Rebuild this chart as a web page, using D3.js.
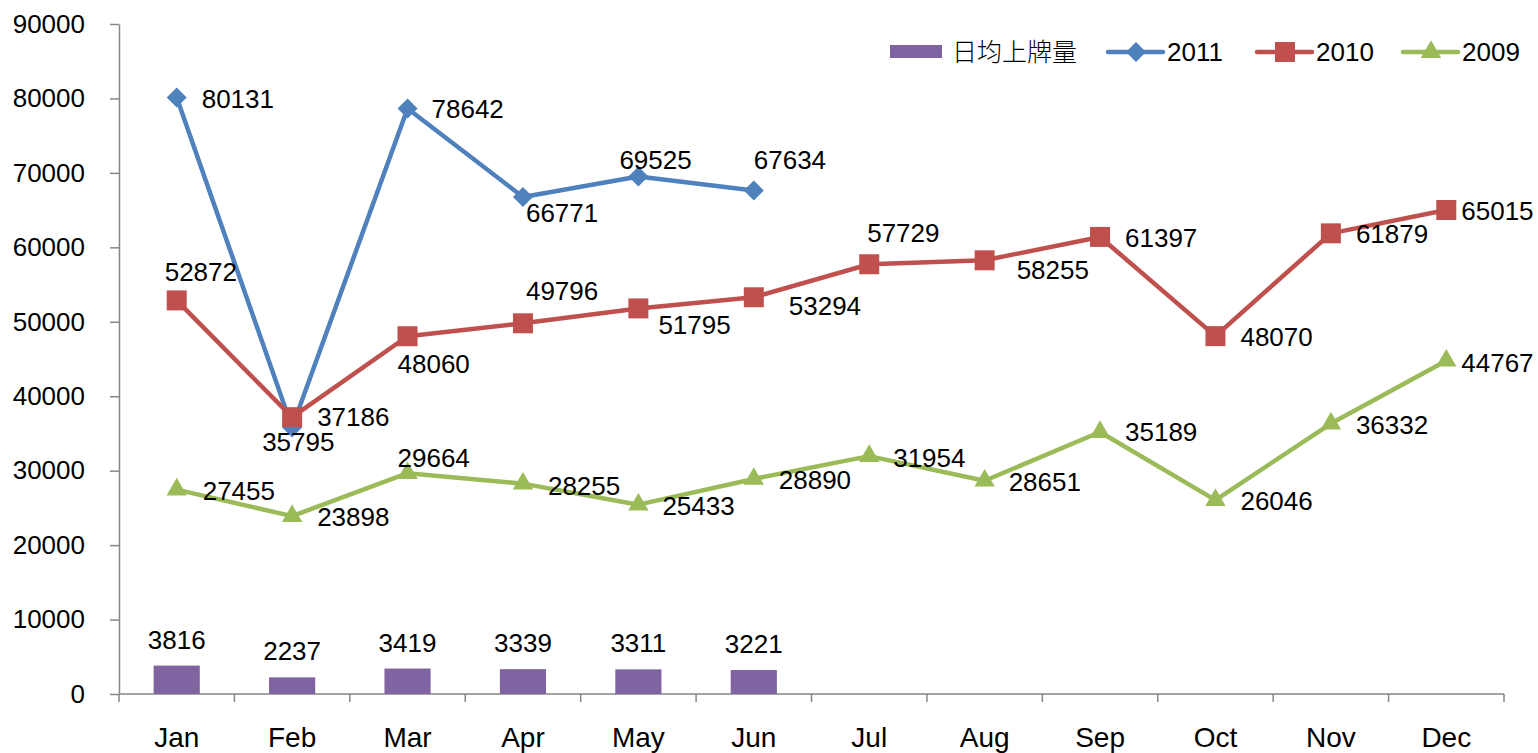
<!DOCTYPE html>
<html>
<head>
<meta charset="utf-8">
<script src="https://cdn.jsdelivr.net/npm/d3@7"></script>
<style>
  body { margin: 0; background: #fff; }
  text { font-family: "Liberation Sans", Arial, sans-serif; fill: #000; }
</style>
</head>
<body>
<svg id="chart"></svg>
<script>
// months on the x axis
var months = ["Jan", "Feb", "Mar", "Apr", "May", "Jun", "Jul", "Aug", "Sep", "Oct", "Nov", "Dec"];

// bars: daily average registrations
var dailyAvg = [3816, 2237, 3419, 3339, 3311, 3221];

// lines
var v2011 = [80131, 35795, 78642, 66771, 69525, 67634];
var v2010 = [52872, 37186, 48060, 49796, 51795, 53294, 57729, 58255, 61397, 48070, 61879, 65015];
var v2009 = [27455, 23898, 29664, 28255, 25433, 28890, 31954, 28651, 35189, 26046, 36332, 44767];

var yTicks = [0, 10000, 20000, 30000, 40000, 50000, 60000, 70000, 80000, 90000];

// label nudges [dx to left edge, dy to centre], relative to the point
var shift2011 = [[25,1],[-30,14],[24,0],[3,16],[-19,-17],[0,-31]];
var shift2010 = [[-12,-28],[25,0],[-10,28],[3,-32],[20,16],[35,9],[-2,-31],[32,10],[25,1],[25,1],[25,1],[15,1]];
var shift2009 = [[26,1],[25,1],[-10,-15],[25,2],[24,1],[25,1],[24,2],[24,1],[25,0],[25,1],[25,1],[15,2]];

var w = 1538, h = 753;
var margin = {top: 24, left: 119, right: 34, bottom: 59};

var svg = d3.select("#chart").attr("width", w).attr("height", h);

var x = d3.scaleBand()
    .domain(months)
    .range([margin.left, w - margin.right])
    .padding(0);
var y = d3.scaleLinear()
    .domain([0, 90000])
    .range([h - margin.bottom, margin.top]);

var bw = x.bandwidth();
function cx(i) { return x(months[i]) + bw / 2; }

var axisColor = "#868686";

// y axis
var yAxis = svg.append("g")
    .attr("transform", "translate(" + margin.left + ",0)")
    .call(d3.axisLeft(y).tickValues(yTicks).tickSize(9).tickSizeOuter(0).tickPadding(25).tickFormat(d3.format("d")));
yAxis.select(".domain").attr("stroke", axisColor).attr("stroke-width", 1.5);
yAxis.selectAll(".tick line").attr("stroke", axisColor).attr("stroke-width", 1.5);
yAxis.selectAll("text").attr("font-size", 26).attr("font-family", "Liberation Sans, Arial, sans-serif").attr("fill", "#000");

// x axis: labels via axis, ticks at category boundaries
var xAxis = svg.append("g")
    .attr("transform", "translate(0," + y(0) + ")")
    .call(d3.axisBottom(x).tickSize(0).tickPadding(33));
xAxis.select(".domain").remove();
xAxis.selectAll("text").attr("font-size", 28).attr("font-family", "Liberation Sans, Arial, sans-serif").attr("fill", "#000");

var bounds = months.map(function(m){ return x(m); }).concat([x.range()[1]]);
svg.append("line")
    .attr("x1", x.range()[0]).attr("x2", x.range()[1])
    .attr("y1", y(0)).attr("y2", y(0))
    .attr("stroke", axisColor).attr("stroke-width", 1.5);
svg.selectAll(".xtick")
    .data(bounds)
    .enter().append("line")
    .attr("x1", function(d){ return d; }).attr("x2", function(d){ return d; })
    .attr("y1", y(0)).attr("y2", y(0) + 8)
    .attr("stroke", axisColor).attr("stroke-width", 1.5);

// bars
var barW = bw / 2.5;
svg.selectAll(".bar")
    .data(dailyAvg)
    .enter().append("rect")
    .attr("x", function(d, i){ return cx(i) - barW / 2; })
    .attr("y", function(d){ return y(d); })
    .attr("width", barW)
    .attr("height", function(d){ return y(0) - y(d); })
    .attr("fill", "#8064A2");
svg.selectAll(".barlabel")
    .data(dailyAvg)
    .enter().append("text")
    .attr("x", function(d, i){ return cx(i); })
    .attr("y", function(d){ return y(d) - 26; })
    .attr("dy", "0.35em")
    .attr("text-anchor", "middle")
    .attr("font-size", 26)
    .text(function(d){ return d; });

var series = [
  {name: "2011", values: v2011, color: "#4F81BD", marker: "diamond", shift: shift2011},
  {name: "2010", values: v2010, color: "#C0504D", marker: "square", shift: shift2010},
  {name: "2009", values: v2009, color: "#9BBB59", marker: "triangle", shift: shift2009}
];

function markerPath(type) {
  if (type === "diamond") return d3.symbol().type(d3.symbolSquare).size(200)();
  if (type === "square") return d3.symbol().type(d3.symbolSquare).size(400)();
  return d3.symbol().type(d3.symbolTriangle).size(180)();
}
function markerRot(type) { return type === "diamond" ? " rotate(45)" : ""; }

var line = d3.line()
    .x(function(d, i){ return cx(i); })
    .y(function(d){ return y(d); });

series.forEach(function(s){
  var g = svg.append("g");
  g.append("path")
      .datum(s.values)
      .attr("d", line)
      .attr("fill", "none")
      .attr("stroke", s.color)
      .attr("stroke-width", 4.5)
      .attr("stroke-linejoin", "round");
  g.selectAll(".mk")
      .data(s.values)
      .enter().append("path")
      .attr("d", markerPath(s.marker))
      .attr("transform", function(d, i){ return "translate(" + cx(i) + "," + y(d) + ")" + markerRot(s.marker); })
      .attr("fill", s.color);
});

series.forEach(function(s){
  svg.append("g").selectAll("text")
      .data(s.values)
      .enter().append("text")
      .attr("x", function(d, i){ return cx(i) + s.shift[i][0]; })
      .attr("y", function(d, i){ return y(d) + s.shift[i][1]; })
      .attr("dy", "0.35em")
      .attr("font-size", 26)
      .text(function(d){ return d; });
});

// legend
var legY = 52;
var leg = svg.append("g");
leg.append("rect")
    .attr("x", 890).attr("y", legY - 7).attr("width", 52).attr("height", 13)
    .attr("fill", "#8064A2");
leg.append("text")
    .attr("x", 952).attr("y", legY).attr("dy", "0.36em")
    .attr("font-size", 25)
    .style("font-family", "'Noto Sans CJK SC', sans-serif")
    .style("font-weight", 300)
    .attr("fill", "#222")
    .text("日均上牌量");

var legX = [1108, 1257, 1403];
series.forEach(function(s, i){
  var lx = legX[i];
  leg.append("line")
      .attr("x1", lx).attr("x2", lx + 55)
      .attr("y1", legY).attr("y2", legY)
      .attr("stroke", s.color).attr("stroke-width", 4.5)
      .attr("stroke-linecap", "round");
  leg.append("path")
      .attr("d", markerPath(s.marker))
      .attr("transform", "translate(" + (lx + 28) + "," + legY + ")" + markerRot(s.marker))
      .attr("fill", s.color);
  leg.append("text")
      .attr("x", lx + 59).attr("y", legY).attr("dy", "0.35em")
      .attr("font-size", 26)
      .text(s.name);
});
</script>
</body>
</html>
